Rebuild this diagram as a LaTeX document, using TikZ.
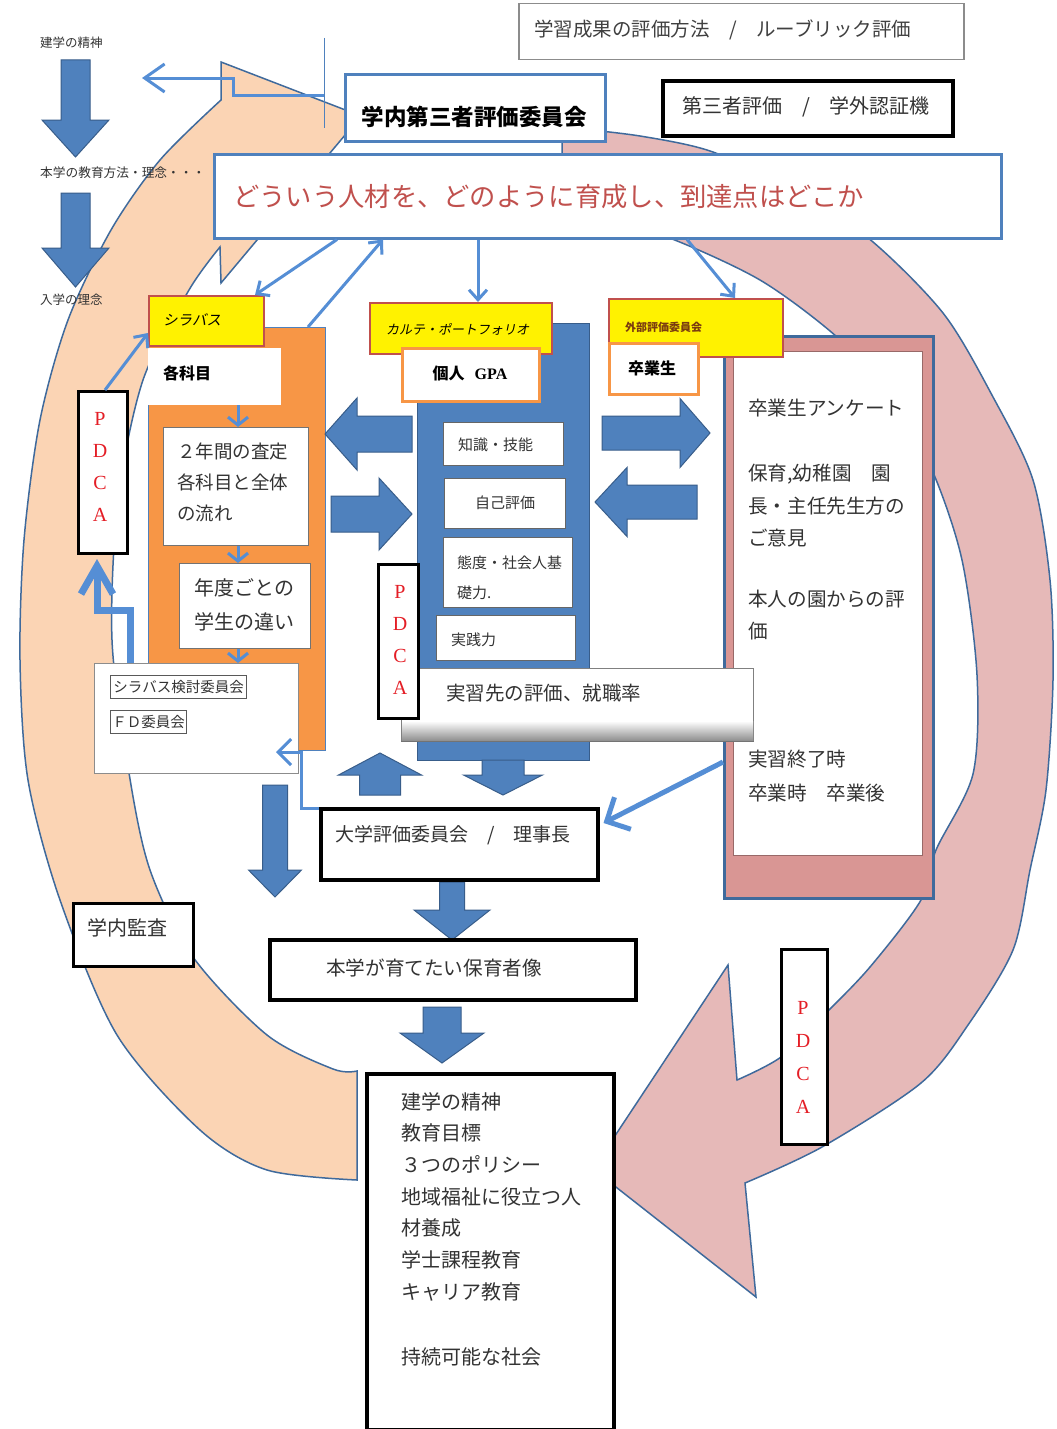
\documentclass[tikz,border=0pt]{standalone}
\usepackage{fontspec}
\setmainfont{Noto Sans CJK JP}
\newfontfamily\jpit{Noto Sans CJK JP}[FakeSlant=0.2]
\newfontfamily\serifrm{Liberation Serif}
\usetikzlibrary{arrows.meta,calc}
\definecolor{peach}{HTML}{FBD4B4}
\definecolor{pinkband}{HTML}{E6B9B8}
\definecolor{pinkfill}{HTML}{D99694}
\definecolor{bandline}{HTML}{3F6A9C}
\definecolor{accblue}{HTML}{4F81BD}
\definecolor{darkblue}{HTML}{385D8A}
\definecolor{lineblue}{HTML}{558ED5}
\definecolor{orangep}{HTML}{F79646}
\definecolor{redtxt}{HTML}{C0504D}
\definecolor{pdcared}{HTML}{E41E26}
\definecolor{txtgray}{HTML}{333333}
\definecolor{browntxt}{HTML}{7A3B10}
\newcommand\fsz[1]{\fontsize{#1}{#1}\selectfont}
\newcommand\barrowv[6]{\filldraw[blockarrow] ({#1-#5},#2) -- ({#1+#5},#2) -- ({#1+#5},#3) -- ({#1+#6},#3) -- (#1,#4) -- ({#1-#6},#3) -- ({#1-#5},#3) -- cycle;}
\newcommand\barrowh[6]{\filldraw[blockarrow] (#2,{#1-#5}) -- (#3,{#1-#5}) -- (#3,{#1-#6}) -- (#4,#1) -- (#3,{#1+#6}) -- (#3,{#1+#5}) -- (#2,{#1+#5}) -- cycle;}
\tikzset{
  mybox/.style={draw, inner sep=0pt, anchor=north west, fill=white},
  blackbox/.style={mybox, draw=black, line width=3.5pt},
  smallwb/.style={mybox, draw=black!60, line width=1.3pt},
  lbl/.style={inner sep=0pt, anchor=west, text=txtgray},
  mtext/.style={inner sep=0pt, anchor=north west, align=left, text=txtgray},
  pdcatext/.style={inner sep=0pt, anchor=center, align=center, text=pdcared},
  conn/.style={draw=lineblue, line width=3pt, -{Straight Barb[length=10pt,width=18pt]}},
  smallconn/.style={draw=lineblue, line width=3pt, -{Straight Barb[length=8pt,width=20pt]}},
  blockarrow/.style={fill=accblue, draw=darkblue, line width=1pt},
  bandstyle/.style={draw=bandline, line width=1.5pt},
}
\begin{document}
\begin{tikzpicture}[x=1pt,y=-1pt]
\useasboundingbox (0,0) rectangle (1057,1429);
\fill[white] (0,0) rectangle (1057,1429);

% ---------- peach band (left, counter-clockwise) ----------
\filldraw[fill=peach, bandstyle] (357,1071) -- (357,1180) -- plot[smooth] coordinates {(357,1180) (267,1170) (200,1130) (117,1035) (60,900) (28,780) (20,660) (24,540) (40,420) (68,320) (111,230) (160,160) (221,100)} -- (221,62) -- (361,116) -- (221,283) -- (220,247) -- plot[smooth] coordinates {(220,247) (189,290) (143,380) (118,500) (112,640) (129,773) (150,870) (193,957) (267,1035) (333,1069) (357,1071)} -- cycle;

% ---------- pink band (right, clockwise) ----------
\filldraw[fill=pinkband, bandstyle] (562,214) -- (562,127) -- plot[smooth] coordinates {(562,127) (640,136) (713,152) (790,190) (867,237) (943,313) (993,397) (1033,480) (1050,580) (1053,680) (1046,790) (1030,870) (1013,950) (968,1025) (921,1083) (822,1147) (745,1183)} -- (756,1297) -- (593,1169) -- (728,965) -- (737,1080) -- plot[smooth] coordinates {(737,1080) (781,1057) (826,1013) (870,967) (921,900) (936,850) (973,774) (977,675) (962,560) (932,470) (890,395) (837,337) (760,280) (667,237) (600,220) (562,214)} -- cycle;

% ---------- left labels and arrows ----------
\barrowv{75.5}{60}{120}{157}{14.5}{33.5}
\barrowv{75.5}{193}{248}{287}{14.5}{33.5}
\node[lbl, font=\fsz{12.5}] (lab1) at (40,43) {建学の精神};
\node[lbl, font=\fsz{12.7}] (lab2) at (40,173) {本学の教育方法・理念・・・};
\node[lbl, font=\fsz{12.5}] (lab3) at (40,300) {入学の理念};

% ---------- top boxes ----------
\node[mybox, draw=black!45, line width=1.5pt, minimum width=445pt, minimum height=56pt] (topbox) at (518,3) {};
\node[blackbox, minimum width=290pt, minimum height=55pt] (third) at (661,79) {};
\node[mybox, draw=accblue, line width=2.5pt, minimum width=260pt, minimum height=67pt] (gakunai) at (344,73) {};
\node[mybox, draw=accblue, line width=2.5pt, minimum width=787pt, minimum height=84pt] (bigbox) at (213,153) {};

\coordinate (vtop) at (324,38);
\coordinate (vbot) at (324,128);
\draw[accblue, line width=1pt] (vtop) -- (vbot);
\coordinate (kstub) at (324,95);
\coordinate (kend) at (142,78);
\draw[conn, -{Straight Barb[length=20pt,width=28pt]}] (kstub) -- ++(-91,0) -- ++(0,-17) -- (kend);

% ---------- orange column ----------
\node[mybox, fill=orangep, draw=accblue, line width=1.2pt, minimum width=177pt, minimum height=423pt] (orangepanel) at (148,327) {};
\node[mybox, fill=yellow, draw=redtxt, line width=2pt, minimum width=115pt, minimum height=50pt] (syl) at (148,295) {};
\node[mybox, draw=none, minimum width=133pt, minimum height=57pt] (kk) at (148,348) {};
\node[mybox, draw=black!55, line width=1pt, minimum width=145pt, minimum height=118pt] (nenkan) at (163,427) {};
\node[mybox, draw=black!55, line width=1pt, minimum width=131pt, minimum height=85pt] (nendo) at (179,563) {};
\node[mybox, draw=black!45, line width=1pt, minimum width=204pt, minimum height=110pt] (wbox) at (94,663) {};
\node[mybox, draw=black!65, line width=1.3pt, minimum width=136pt, minimum height=23pt] (sylcomm) at (110,675) {};
\node[mybox, draw=black!65, line width=1.3pt, minimum width=76pt, minimum height=23pt] (fdcomm) at (110,710) {};
\node[mybox, draw=black, line width=3pt, minimum width=49pt, minimum height=162pt] (pdcaL) at (77,390) {};

% ---------- blue column ----------
\node[mybox, fill=accblue, draw=darkblue, line width=1.2pt, minimum width=172pt, minimum height=437pt] (bluepanel) at (417,323) {};
\node[mybox, fill=yellow, draw=redtxt, line width=2pt, minimum width=182pt, minimum height=51pt] (karte) at (369,302) {};
\node[mybox, draw=orangep, line width=2.5pt, minimum width=137pt, minimum height=53pt] (gpa) at (401,347) {};
\node[smallwb, minimum width=120pt, minimum height=43pt] (chishiki) at (443,422) {};
\node[smallwb, minimum width=121pt, minimum height=50pt] (jiko) at (444,478) {};
\node[smallwb, minimum width=129pt, minimum height=70pt] (taido) at (443,537) {};
\node[smallwb, minimum width=139pt, minimum height=45pt] (jissen) at (436,615) {};

% ---------- pink column ----------
\node[mybox, fill=pinkfill, draw=bandline, line width=2.5pt, minimum width=209pt, minimum height=562pt] (pinkbox) at (723,335) {};
\node[mybox, draw=pinkfill!70!black, line width=1.2pt, minimum width=189pt, minimum height=504pt] (pinkinner) at (733,351) {};
\node[mybox, fill=yellow, draw=redtxt, line width=2pt, minimum width=174pt, minimum height=58pt] (gaibu) at (608,298) {};
\node[mybox, draw=orangep, line width=2.5pt, minimum width=89pt, minimum height=51pt] (sotsu) at (608,342) {};

% ---------- practice box and middle PDCA ----------
\node[mybox, draw=black!50, line width=1pt, minimum width=352pt, minimum height=72pt] (jisshu) at (401,668) {};
\shade[top color=white, bottom color=black!45] ($(jisshu.south west)+(1,-20)$) rectangle ($(jisshu.south east)+(-1,0)$);
\draw[black!55, line width=1pt] (jisshu.south west) -- (jisshu.south east);
\node[mybox, draw=black, line width=3pt, minimum width=40pt, minimum height=154pt] (pdcaM) at (377,563) {};

% ---------- block arrows ----------
\barrowh{434}{412}{357}{325}{18}{36}
\barrowh{514}{331}{379}{412}{18}{36}
\barrowh{433}{602}{680}{710}{17}{34.5}
\barrowh{502}{697}{627}{595}{17}{34.5}
\barrowv{380}{795}{775}{753}{20.5}{41.5}
\barrowv{503}{760}{775}{795}{21}{39.5}
\barrowv{275}{785}{870}{897}{12.5}{26.5}
\barrowv{452}{882}{910}{940}{12.5}{38}
\barrowv{442}{1007}{1033}{1063}{19}{42}

% ---------- lower boxes ----------
\node[blackbox, minimum width=277pt, minimum height=71pt] (daigaku) at (319,807) {};
\node[blackbox, minimum width=366pt, minimum height=60pt] (honngaku) at (268,938) {};
\node[mybox, draw=black, line width=3pt, minimum width=120pt, minimum height=63pt] (kansa) at (72,902) {};
\node[blackbox, minimum width=247pt, minimum height=356pt] (kengaku) at (365,1072) {};
\node[mybox, draw=black, line width=3pt, minimum width=46pt, minimum height=195pt] (pdcaR) at (780,948) {};

% ---------- connectors ----------
\draw[conn] ($(bigbox.south west)+(124,0)$) -- ($(syl.north east)+(-10,0)$);
\draw[conn] ($(orangepanel.north west)+(160,0)$) -- ($(bigbox.south west)+(170,0)$);
\draw[conn] ($(bigbox.south west)+(265,0)$) -- ($(karte.north west)+(109,0)$);
\draw[conn] ($(bigbox.south west)+(474,0)$) -- ($(gaibu.north west)+(127,0)$);
\draw[conn] ($(pdcaL.north west)+(28,0)$) -- ($(syl.north west)+(0,38)$);
\draw[smallconn] ($(kk.south west)+(90,0)$) -- ($(nenkan.north west)+(75,0)$);
\draw[smallconn] ($(nenkan.south west)+(75,0)$) -- ($(nendo.north west)+(59,0)$);
\draw[smallconn] ($(nendo.south west)+(59,0)$) -- ($(wbox.north west)+(144,0)$);
\draw[draw=lineblue, line width=7pt, -{Straight Barb[length=28pt,width=32pt]}] ($(wbox.north west)+(36,0)$) -- ++(0,-53) -- ++(-33,0) -- ($(pdcaL.south west)+(20,4)$);
\draw[conn, -{Straight Barb[length=13pt,width=26pt]}] ($(daigaku.north west)+(0,1)$) -- ++(-18,0) -- ++(0,-56) -- ++(-25,0);
\draw[conn, line width=5pt, -{Straight Barb[length=18pt,width=36pt]}] ($(pinkbox.north west)+(0,427)$) -- ($(daigaku.north east)+(4,16)$);

% ---------- texts ----------
\node[lbl, font=\fsz{19.5}, text=black!75] (ttop) at (534,30) {学習成果の評価方法　/　ルーブリック評価};
\node[lbl, anchor=center, font=\fsz{20}] (tthird) at (806,107) {第三者評価　/　学外認証機};
\node[lbl, anchor=center, font=\bfseries\fsz{22.5}, text=black] (tgak) at (474,117) {学内第三者評価委員会};
\node[lbl, font=\fsz{26.3}, text=redtxt] (tbig) at (233,197) {どういう人材を、どのように育成し、到達点はどこか};

\node[lbl, font=\jpit\fsz{14.5}, text=black] (tsyl) at (163,320) {シラバス};
\node[lbl, font=\bfseries\fsz{16}, text=black] (tkk) at (163,373) {各科目};
\node[mtext, font=\fontsize{18.5}{31}\selectfont] (tnenkan) at (177,443) {２年間の査定\\各科目と全体\\の流れ};
\node[mtext, font=\fontsize{20}{34}\selectfont] (tnendo) at (194,578) {年度ごとの\\学生の違い};
\node[lbl, anchor=center, font=\fsz{14.5}] (tsylc) at (sylcomm.center) {シラバス検討委員会};
\node[lbl, anchor=center, font=\fsz{14.5}] (tfd) at (fdcomm.center) {ＦＤ委員会};

\node[lbl, font=\jpit\fsz{13}, text=black] (tkarte) at (386,329) {カルテ・ポートフォリオ};
\node[lbl, anchor=center, font=\fsz{16}, text=black] (tgpa) at (470,373) {{\bfseries 個人}\hspace{10pt}{\serifrm\bfseries GPA}};
\node[lbl, font=\fsz{15}] (tchishiki) at (458,445) {知識・技能};
\node[lbl, anchor=center, font=\fsz{15}] (tjiko) at (505,503) {自己評価};
\node[mtext, font=\fontsize{15}{30}\selectfont] (ttaido) at (457,555.5) {態度・社会人基\\礎力.};
\node[lbl, font=\fsz{15}] (tjissen) at (451,640) {実践力};
\node[lbl, font=\fsz{19.5}] (tjisshu) at (446,693) {実習先の評価、就職率};

\node[lbl, font=\bfseries\fsz{11}, text=browntxt] (tgaibu) at (625,327) {外部評価委員会};
\node[lbl, anchor=center, font=\bfseries\fsz{16}, text=black] (tsotsu) at (652,368) {卒業生};
\node[lbl, font=\fsz{19.6}] (tp1) at (748,408) {卒業生アンケート};
\node[mtext, font=\fontsize{19.6}{32.5}\selectfont] (tp2) at (748,464) {保育,幼稚園　園\\長・主任先生方の\\ご意見};
\node[mtext, font=\fontsize{19.6}{32}\selectfont] (tp3) at (748,590) {本人の園からの評\\価};
\node[mtext, font=\fontsize{19.6}{34}\selectfont] (tp4) at (748,750) {実習終了時\\卒業時　卒業後};

\node[lbl, font=\fsz{19}] (tdaigaku) at (335,835) {大学評価委員会　/　理事長};
\node[lbl, font=\fsz{19.6}] (thonngaku) at (326,968) {本学が育てたい保育者像};
\node[lbl, font=\fsz{20}] (tkansa) at (87,928) {学内監査};
\node[mtext, font=\fontsize{20}{31.7}\selectfont] (tkengaku) at (401,1092) {建学の精神\\教育目標\\３つのポリシー\\地域福祉に役立つ人\\材養成\\学士課程教育\\キャリア教育\\[33pt]持続可能な社会};

\node[pdcatext, font=\serifrm\fontsize{20}{32}\selectfont] (tpL) at (100,466.5) {P\\D\\C\\A};
\node[pdcatext, font=\serifrm\fontsize{20}{32}\selectfont] (tpM) at (400,640) {P\\D\\C\\A};
\node[pdcatext, font=\serifrm\fontsize{20}{33}\selectfont] (tpR) at (803,1057.5) {P\\D\\C\\A};
\end{tikzpicture}
\end{document}
